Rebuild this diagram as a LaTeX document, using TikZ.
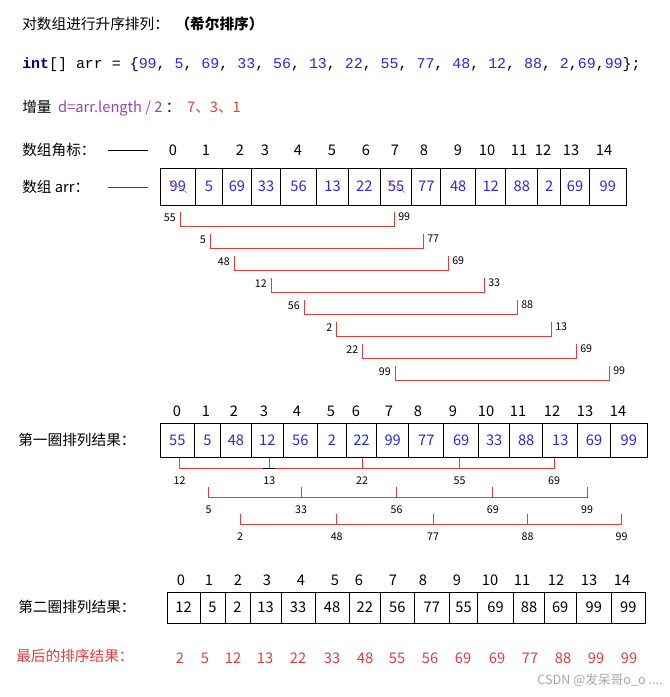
\documentclass[tikz,border=0pt]{standalone}
\usepackage{fontspec}
\usetikzlibrary{calc}
\setmainfont{Noto Sans CJK SC}
\newfontfamily\monof{Liberation Mono}
\definecolor{navy}{RGB}{0,0,128}
\definecolor{nblue}{RGB}{40,40,230}
\definecolor{lred}{RGB}{230,60,60}
\definecolor{purp}{RGB}{150,70,170}
\begin{document}
\begin{tikzpicture}[x=0.75pt,y=-0.75pt,
  txt/.style={font=\fontsize{11}{12}\selectfont,inner sep=0},
  idx/.style={font=\fontsize{11}{12}\selectfont,inner sep=0},
  sm/.style={font=\fontsize{8}{9}\selectfont,inner sep=0},
  cell/.style={draw,inner sep=0,font=\fontsize{11}{12}\selectfont,line width=0.7pt},
  br/.style={draw=lred,line width=0.6pt}]
\useasboundingbox (0,0) rectangle (670,697);
% header
\node[txt,anchor=west] (t1) at (22,24) {对数组进行升序排列：\ \ \textbf{（希尔排序）}};
\node[anchor=west,inner sep=0,font=\monof\fontsize{11.2}{13}\selectfont] (t2) at (22,65)
 {\textcolor{navy}{\textbf{int}}[] arr = \{\textcolor{nblue}{99}, \textcolor{nblue}{5}, \textcolor{nblue}{69}, \textcolor{nblue}{33}, \textcolor{nblue}{56}, \textcolor{nblue}{13}, \textcolor{nblue}{22}, \textcolor{nblue}{55}, \textcolor{nblue}{77}, \textcolor{nblue}{48}, \textcolor{nblue}{12}, \textcolor{nblue}{88}, \textcolor{nblue}{2},\textcolor{nblue}{69},\textcolor{nblue}{99}\};};
\node[txt,anchor=west] (t3) at (22,108) {增量\ \ \textcolor{purp}{d=arr.length / 2}\ ：\ \ \textcolor{lred}{7、3、1}};
\node[txt,anchor=west] (l1) at (22,150) {数组角标：};
\coordinate (l1a) at (108,150); \coordinate (l1b) at (148,150);
\draw (l1a) -- (l1b);
\node[txt,anchor=west] (l2) at (22,187) {数组 arr：};
\coordinate (l2a) at (108,187); \coordinate (l2b) at (148,187);
\draw[nblue] (l2a) -- (l2b);
% indices
\foreach \x [count=\i from 0] in {173,206,240,265,298,332,366,395,424,458,487,519,543,571,604}
  \node[idx] (ia\i) at (\x,150) {\i};
\foreach \x [count=\i from 0] in {177,206,234,264,297,331,356,389,418,453,486,518,552,585,618}
  \node[idx] (ib\i) at (\x,411) {\i};
\foreach \x [count=\i from 0] in {181,209,238,267,301,335,359,393,423,457,490,522,556,589,622}
  \node[idx] (ic\i) at (\x,580) {\i};
% array 1
\foreach \l/\r/\v [count=\i from 0] in {160/195.5/99,195.5/222.4/5,222.4/251.5/69,251.5/280.6/33,280.6/316.5/56,316.5/348.5/13,348.5/380.2/22,380.2/411.8/55,411.8/440.9/77,440.9/475.5/48,475.5/505.8/12,505.8/537.9/88,537.9/560.6/2,560.6/589.6/69,589.6/626/99}{
  \pgfmathsetmacro\w{(\r-\l)*0.75}
  \node[cell,text=nblue,minimum width=\w pt,minimum height=27.75pt] (a\i) at ({(\l+\r)/2},186.5) {\v};}
\draw[lred] (a0.center) ++(-9,-6) -- ++(18,12);
\draw[lred] (a7.center) ++(-9,-6) -- ++(18,12);
% pair brackets
\foreach \l/\r/\lv/\rv/\y [count=\k] in {180/394/55/99/212,210/423/5/77/234,234/448/48/69/256,271/484/12/33/278,304/517/56/88/300,336.6/551/2/13/322,362.6/576/22/69/344,395/609/99/99/366}{
  \coordinate (p\k a) at (\l,\y); \coordinate (p\k b) at (\r,\y);
  \draw[br] (p\k a) -- ++(0,14) -| (p\k b);
  \node[sm,anchor=east] (pl\k) at ($(p\k a)+(-4,6)$) {\lv};
  \node[sm,anchor=west] (pr\k) at ($(p\k b)+(4,5)$) {\rv};}
% array 2
\node[txt,anchor=west] (l3) at (18,440) {第一圈排列结果：};
\foreach \l/\r/\v [count=\i from 0] in {160/194.7/55,194.7/220.3/5,220.3/251.5/48,251.5/283.2/12,283.2/317.4/56,317.4/346.4/2,346.4/376.4/22,376.4/408.9/99,408.9/443.6/77,443.6/478.8/69,478.8/509.5/33,509.5/542.9/88,542.9/577.6/13,577.6/610.6/69,610.6/647/99}{
  \pgfmathsetmacro\w{(\r-\l)*0.75}
  \node[cell,text=nblue,minimum width=\w pt,minimum height=25.5pt] (b\i) at ({(\l+\r)/2},440) {\v};}
% group brackets
\foreach \xs/\vs/\tp/\g in {{179.5,269.3,362,459.6,554}/{12,13,22,55,69}/458/1,{208.7,301,396.5,492.8,587}/{5,33,56,69,99}/487/2,{240,336.7,433,527.6,621.6}/{2,48,77,88,99}/513.6/3}{
  \foreach \x [count=\j] in \xs {
    \coordinate (g\g t\j) at (\x,\tp);
    \draw[br] (g\g t\j) -- ++(0,10.5);}
  \draw[br] ($(g\g t1)+(0,10.5)$) -- ($(g\g t5)+(0,10.5)$);
  \foreach \v [count=\j] in \vs
    \node[sm] (g\g l\j) at ($(g\g t\j)+(0,23)$) {\v};}
\draw[line width=0.8pt] ($(g1t2)+(-6,10.5)$) -- ($(g1t2)+(6,10.5)$);
% array 3
\node[txt,anchor=west] (l4) at (18,607) {第二圈排列结果：};
\foreach \l/\r/\v [count=\i from 0] in {167/200/12,200/225/5,225/250/2,250/281/13,281/315/33,315/349/48,349/380.6/22,380.6/414/56,414/449.7/77,449.7/477.4/55,477.4/513.7/69,513.7/544.4/88,544.4/576/69,576/611.7/99,611.7/645/99}{
  \pgfmathsetmacro\w{(\r-\l)*0.75}
  \node[cell,minimum width=\w pt,minimum height=23.25pt] (c\i) at ({(\l+\r)/2},607.5) {\v};}
% final
\node[txt,anchor=west,text=lred] (l5) at (16,656) {最后的排序结果：};
\foreach \x/\v [count=\i] in {180/2,205/5,233/12,265/13,298/22,332/33,365/48,397/55,430/56,463/69,497/69,530/77,563/88,596/99,629/99}
  \node[idx,text=lred] (f\i) at (\x,658) {\v};
\node[anchor=east,inner sep=0,text=gray!70,font=\fontsize{9.5}{11}\selectfont] (wm) at (663,680) {CSDN @发呆哥o\_o ....};
\end{tikzpicture}
\end{document}
